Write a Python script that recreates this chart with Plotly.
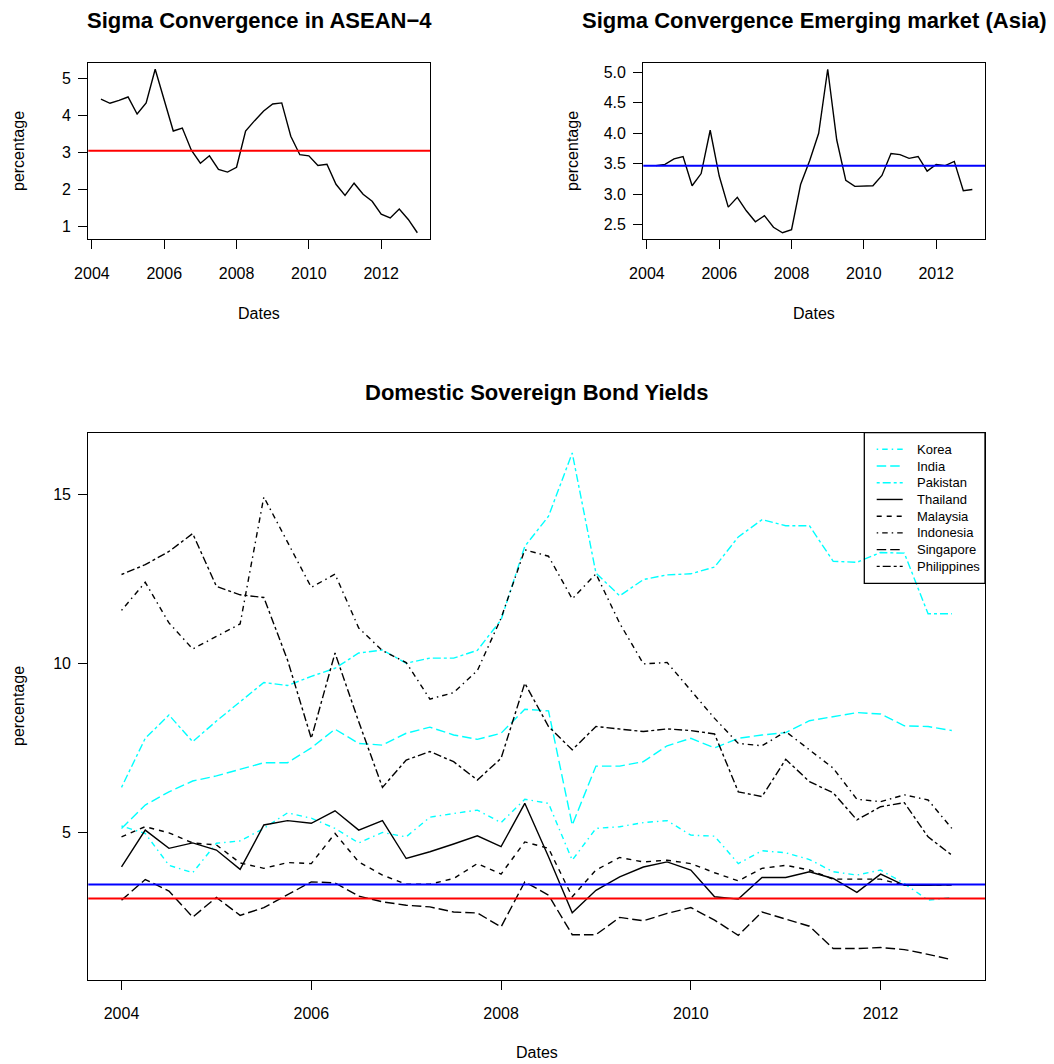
import numpy as np
import plotly.graph_objects as go

# ---------------------------------------------------------------------------
# Sigma convergence (cross-country dispersion of yields), quarterly 2004Q2-2013Q1
# ---------------------------------------------------------------------------
sigma_start = 2004.25
asean4_sigma = [4.45, 4.34, 4.42, 4.51, 4.05, 4.35, 5.26, 4.42, 3.59, 3.67,
                3.07, 2.72, 2.92, 2.55, 2.48, 2.61, 3.59, 3.87, 4.13, 4.32,
                4.35, 3.45, 2.95, 2.92, 2.66, 2.69, 2.15, 1.85, 2.18, 1.88,
                1.69, 1.34, 1.24, 1.48, 1.20, 0.84]
asia_sigma = [3.47, 3.49, 3.58, 3.62, 3.14, 3.34, 4.05, 3.30, 2.79, 2.95,
              2.73, 2.55, 2.65, 2.46, 2.37, 2.42, 3.16, 3.55, 4.00, 5.05,
              3.89, 3.23, 3.13, 3.14, 3.14, 3.31, 3.67, 3.65, 3.59, 3.62,
              3.38, 3.49, 3.47, 3.54, 3.06, 3.08]

# benchmark levels drawn as horizontal reference lines
asean4_level = 3.06
asia_level = 3.47

# ---------------------------------------------------------------------------
# Domestic sovereign bond yields (%), quarterly 2004Q1-2012Q4
# ---------------------------------------------------------------------------
yield_start = 2004.0
countries = ["Korea", "India", "Pakistan", "Thailand",
             "Malaysia", "Indonesia", "Singapore", "Philippines"]

korea = [5.20, 4.98, 4.04, 3.82, 4.69, 4.76, 5.13, 5.59, 5.43, 5.13,
         4.70, 5.01, 4.88, 5.46, 5.57, 5.67, 5.30, 5.99, 5.87, 4.19,
         5.13, 5.18, 5.30, 5.36, 4.93, 4.90, 4.09, 4.47, 4.41, 4.21,
         3.85, 3.75, 3.90, 3.50, 3.01, 3.09]
india = [5.13, 5.82, 6.21, 6.53, 6.68, 6.88, 7.07, 7.07, 7.51, 8.06,
         7.64, 7.59, 7.94, 8.12, 7.89, 7.76, 7.94, 8.65, 8.60, 5.23,
         6.97, 6.97, 7.10, 7.57, 7.79, 7.51, 7.79, 7.89, 7.96, 8.31,
         8.43, 8.55, 8.51, 8.16, 8.14, 8.02]
pakistan = [6.34, 7.79, 8.48, 7.69, 8.30, 8.88, 9.44, 9.35, 9.62, 9.86,
            10.31, 10.40, 10.01, 10.16, 10.16, 10.39, 11.29, 13.46, 14.35, 16.22,
            12.67, 12.00, 12.48, 12.62, 12.65, 12.85, 13.74, 14.25, 14.07, 14.07,
            13.02, 12.99, 13.28, 13.26, 11.47, 11.47]
thailand = [3.99, 5.08, 4.54, 4.70, 4.49, 3.92, 5.23, 5.36, 5.28, 5.65,
            5.08, 5.36, 4.24, 4.44, 4.67, 4.91, 4.59, 5.87, 4.29, 2.64,
            3.30, 3.70, 3.99, 4.14, 3.90, 3.11, 3.04, 3.68, 3.68, 3.85,
            3.65, 3.24, 3.78, 3.45, 3.45, 3.46]
malaysia = [4.88, 5.18, 5.00, 4.70, 4.64, 4.11, 3.95, 4.12, 4.09, 4.98,
            4.14, 3.75, 3.48, 3.48, 3.65, 4.09, 3.78, 4.73, 4.54, 3.11,
            3.90, 4.27, 4.14, 4.19, 4.09, 3.82, 3.58, 3.95, 4.04, 3.90,
            3.63, 3.63, 3.63, 3.45, 3.46, 3.46]
indonesia = [11.57, 12.40, 11.20, 10.43, 10.80, 11.17, 14.92, 13.59, 12.25, 12.64,
             11.05, 10.38, 10.03, 8.95, 9.14, 9.79, 11.34, 13.36, 13.17, 11.91,
             12.65, 11.19, 9.99, 10.03, 9.19, 8.38, 7.64, 7.57, 7.99, 7.45,
             6.91, 5.99, 5.92, 6.12, 5.97, 5.13]
singapore = [3.01, 3.62, 3.28, 2.51, 3.09, 2.56, 2.79, 3.16, 3.55, 3.52,
             3.13, 2.96, 2.86, 2.81, 2.66, 2.63, 2.22, 3.55, 3.16, 1.99,
             1.99, 2.50, 2.40, 2.62, 2.79, 2.42, 1.97, 2.66, 2.44, 2.24,
             1.58, 1.58, 1.61, 1.55, 1.41, 1.25]
philippines = [12.63, 12.92, 13.31, 13.84, 12.28, 12.03, 11.95, 10.10, 7.79, 10.31,
               8.28, 6.34, 7.15, 7.40, 7.10, 6.56, 7.20, 9.42, 8.14, 7.45,
               8.14, 8.06, 7.99, 8.07, 8.02, 7.92, 6.21, 6.07, 7.17, 6.51,
               6.18, 5.38, 5.77, 5.89, 4.88, 4.34]

series = [korea, india, pakistan, thailand, malaysia, indonesia, singapore, philippines]

# line styles in the spirit of R's lty codes
DOTDASH = "1.5px,4px,5.5px,4px"
LONGDASH = "9.5px,4px"
TWODASH = "3px,3px,8px,3px"
DASHED = "5px,5px"
CYAN, BLACK = "#00FFFF", "#000000"
styles = [(CYAN, DOTDASH), (CYAN, LONGDASH), (CYAN, TWODASH), (BLACK, "solid"),
          (BLACK, DASHED), (BLACK, DOTDASH), (BLACK, LONGDASH), (BLACK, TWODASH)]

LW = 1.4
FONT = "Liberation Sans, Arial, Helvetica, sans-serif"
W, H = 1054, 1064


def quarters(start, n):
    return start + np.arange(n) / 4.0


def padded(lo, hi):
    # R-style 4% range extension
    d = (hi - lo) * 0.04
    return [lo - d, hi + d]


def px(x):
    return x / W


def py(y):
    return 1 - y / H


fig = go.Figure()

# --- top left: ASEAN-4 ---------------------------------------------------
xs1 = quarters(sigma_start, len(asean4_sigma))
fig.add_trace(go.Scatter(x=xs1, y=asean4_sigma, mode="lines",
                         line=dict(color=BLACK, width=LW),
                         xaxis="x", yaxis="y", showlegend=False))

# --- top right: emerging Asia --------------------------------------------
xs2 = quarters(sigma_start, len(asia_sigma))
fig.add_trace(go.Scatter(x=xs2, y=asia_sigma, mode="lines",
                         line=dict(color=BLACK, width=LW),
                         xaxis="x2", yaxis="y2", showlegend=False))

# --- bottom: bond yields -------------------------------------------------
xs3 = quarters(yield_start, len(korea))
for name, vals, (col, dash) in zip(countries, series, styles):
    fig.add_trace(go.Scatter(x=xs3, y=vals, mode="lines", name=name,
                             line=dict(color=col, width=LW, dash=dash),
                             xaxis="x3", yaxis="y3", showlegend=False))

all_yields = np.concatenate([np.array(s) for s in series])

axis_common = dict(showline=True, linecolor="black", linewidth=1.3, mirror=True,
                   ticks="outside", ticklen=9, tickwidth=1.3, tickcolor="black",
                   showgrid=False, zeroline=False, automargin=False,
                   tickfont=dict(family=FONT, size=16, color="black"))

xr_top = padded(xs1[0], xs1[-1])
xr_bot = padded(xs3[0], xs3[-1])

fig.update_layout(
    template="none",
    width=W, height=H,
    margin=dict(l=0, r=0, t=0, b=0, pad=0, autoexpand=False),
    paper_bgcolor="white", plot_bgcolor="white",
    xaxis=dict(axis_common, domain=[px(88.3), px(430)], range=xr_top,
               tickvals=[2004, 2006, 2008, 2010, 2012], anchor="y",
               ticklabelstandoff=10),
    yaxis=dict(axis_common, domain=[py(239.3), py(62.7)],
               range=padded(min(asean4_sigma), max(asean4_sigma)),
               tickvals=[1, 2, 3, 4, 5], anchor="x", ticklabelstandoff=4),
    xaxis2=dict(axis_common, domain=[px(643.3), px(985)], range=xr_top,
                tickvals=[2004, 2006, 2008, 2010, 2012], anchor="y2",
                ticklabelstandoff=10),
    yaxis2=dict(axis_common, domain=[py(239.3), py(62.7)],
                range=padded(min(asia_sigma), max(asia_sigma)),
                tickvals=[2.5, 3.0, 3.5, 4.0, 4.5, 5.0], tickformat=".1f",
                anchor="x2", ticklabelstandoff=4),
    xaxis3=dict(axis_common, domain=[px(88.3), px(985)], range=xr_bot,
                tickvals=[2004, 2006, 2008, 2010, 2012], anchor="y3",
                ticklabelstandoff=10),
    yaxis3=dict(axis_common, domain=[py(980), py(432.7)],
                range=padded(all_yields.min(), all_yields.max()),
                tickvals=[5, 10, 15], anchor="x3", ticklabelstandoff=4),
)

# reference levels
shapes = [
    dict(type="line", xref="x domain", yref="y", x0=0, x1=1,
         y0=asean4_level, y1=asean4_level, line=dict(color="#FF0000", width=2)),
    dict(type="line", xref="x2 domain", yref="y2", x0=0, x1=1,
         y0=asia_level, y1=asia_level, line=dict(color="#0000FF", width=2)),
    dict(type="line", xref="x3 domain", yref="y3", x0=0, x1=1,
         y0=asia_level, y1=asia_level, line=dict(color="#0000FF", width=2)),
    dict(type="line", xref="x3 domain", yref="y3", x0=0, x1=1,
         y0=asean4_level, y1=asean4_level, line=dict(color="#FF0000", width=2)),
]

annotations = []


def label(text, x, y, size=16, bold=False, angle=0, xanchor="center"):
    annotations.append(dict(
        text=f"<b>{text}</b>" if bold else text,
        x=px(x), y=py(y), xref="paper", yref="paper",
        xanchor=xanchor, yanchor="middle", showarrow=False, textangle=angle,
        font=dict(family=FONT, size=size, color="black")))


# titles
label("Sigma Convergence in ASEAN\u22124", 259, 20, size=22, bold=True)
label("Sigma Convergence Emerging market (Asia)", 814, 20, size=22, bold=True)
label("Domestic Sovereign Bond Yields", 536.5, 392, size=22, bold=True)

# axis titles
label("Dates", 259, 313)
label("Dates", 814, 313)
label("Dates", 536.5, 1052)
label("percentage", 18, 151, angle=-90)
label("percentage", 572, 151, angle=-90)
label("percentage", 18, 706, angle=-90)

# legend box for the yields panel
shapes.append(dict(type="rect", xref="paper", yref="paper",
                   x0=px(864.3), x1=px(985), y0=py(583.3), y1=py(432.7),
                   line=dict(color="black", width=1.3), fillcolor="rgba(0,0,0,0)"))
row0, row_gap = 449.3, 16.72
for k, (name, (col, dash)) in enumerate(zip(countries, styles)):
    ry = row0 + k * row_gap
    shapes.append(dict(type="line", xref="paper", yref="paper",
                       x0=px(876.7), x1=px(902.7), y0=py(ry), y1=py(ry),
                       line=dict(color=col, width=LW, dash=dash)))
    label(name, 915, ry, size=13, xanchor="left")

fig.update_layout(shapes=shapes, annotations=annotations)

fig.write_html("out.html")
